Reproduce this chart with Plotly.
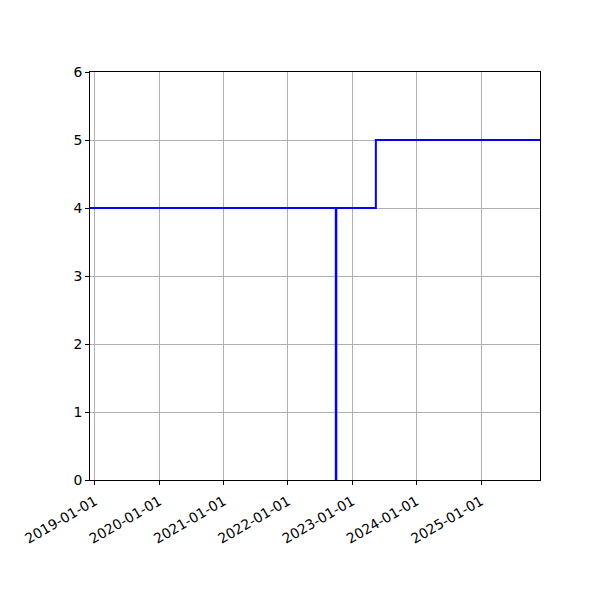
import plotly.graph_objects as go

step_dates = ["2018-12-04", "2023-05-15", "2025-12-02"]
step_values = [4, 5, 5]
vline_dates = ["2022-10-01", "2022-10-01"]
vline_values = [0, 4]
tick_dates = ["2019-01-01", "2020-01-01", "2021-01-01", "2022-01-01",
              "2023-01-01", "2024-01-01", "2025-01-01"]
y_ticks = [0, 1, 2, 3, 4, 5, 6]

fig = go.Figure()
fig.add_trace(go.Scatter(x=step_dates, y=step_values, mode="lines",
                         line=dict(color="blue", width=2, shape="hv"),
                         showlegend=False))
fig.add_trace(go.Scatter(x=vline_dates, y=vline_values, mode="lines",
                         line=dict(color="blue", width=2.5),
                         showlegend=False))

axis_common = dict(showline=True, linecolor="black", linewidth=1, mirror=True,
                   ticks="outside", ticklen=4, tickcolor="black",
                   showgrid=True, gridcolor="#b0b0b0", gridwidth=1,
                   zeroline=False,
                   tickfont=dict(family="DejaVu Sans", size=13.9, color="black"))

fig.update_xaxes(type="date", range=["2018-12-04", "2025-12-02"],
                 tickvals=tick_dates, ticktext=tick_dates, tickangle=-30,
                 ticklabelstandoff=3,
                 **axis_common)
fig.update_yaxes(range=[0, 6], tickvals=y_ticks, **axis_common)

fig.update_layout(width=600, height=600,
                  margin=dict(l=82, r=68, t=64, b=128),
                  plot_bgcolor="white", paper_bgcolor="white")

fig.write_html("out.html")
